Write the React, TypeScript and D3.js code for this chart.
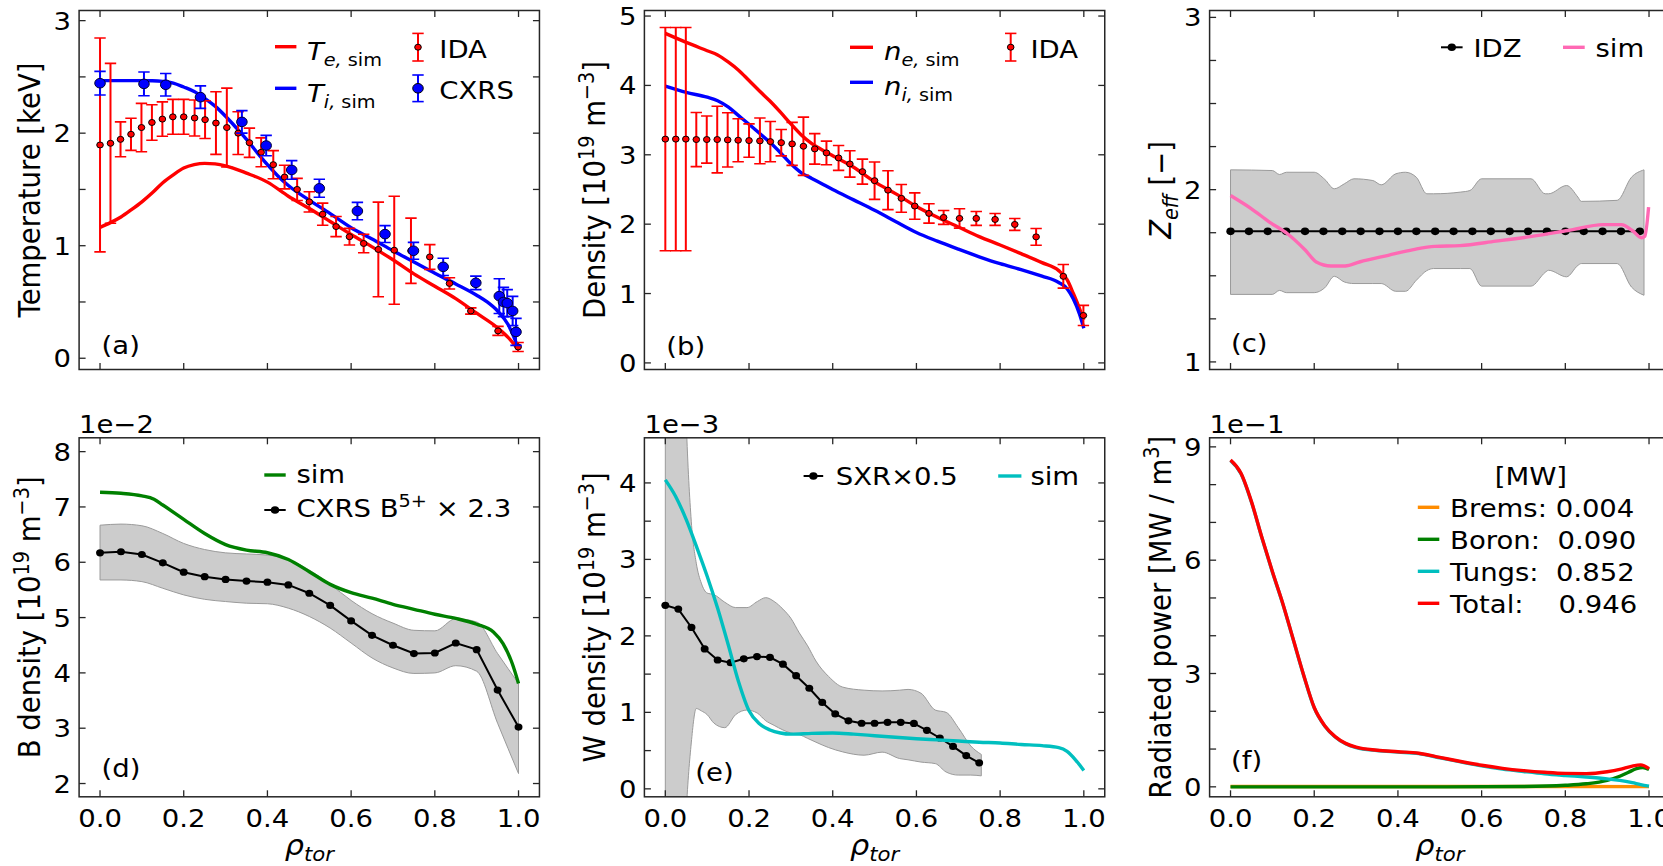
import React from 'react';
import * as d3 from 'd3';

// ---------------- data ----------------
const rhoTicks = [0, 0.2, 0.4, 0.6, 0.8, 1.0];
const rhoTickLabels = ['0.0', '0.2', '0.4', '0.6', '0.8', '1.0'];

// (a) temperatures
const idaRho = [0, 0.025, 0.049, 0.074, 0.099, 0.124, 0.149, 0.174, 0.2, 0.226, 0.251, 0.277, 0.303, 0.33, 0.357, 0.385, 0.414, 0.441, 0.471, 0.5, 0.532, 0.564, 0.596, 0.63, 0.665, 0.703, 0.743, 0.788, 0.835, 0.886, 0.951, 0.999];
const idaTe = [1.895, 1.91, 1.945, 1.99, 2.05, 2.095, 2.125, 2.145, 2.145, 2.135, 2.12, 2.09, 2.05, 2.0, 1.915, 1.83, 1.72, 1.61, 1.50, 1.39, 1.28, 1.17, 1.08, 1.02, 0.967, 0.96, 0.955, 0.90, 0.665, 0.42, 0.243, 0.10];
const idaTeErr = [0.95, 0.71, 0.155, 0.143, 0.215, 0.158, 0.153, 0.155, 0.155, 0.16, 0.168, 0.278, 0.35, 0.19, 0.13, 0.128, 0.125, 0.105, 0.098, 0.09, 0.098, 0.089, 0.074, 0.082, 0.42, 0.48, 0.29, 0.11, 0.05, 0.028, 0.04, 0.04];
const cxrsRho = [0, 0.105, 0.157, 0.24, 0.339, 0.397, 0.458, 0.524, 0.615, 0.681, 0.749, 0.82, 0.898, 0.954, 0.964, 0.973, 0.986, 0.994];
const cxrsTi = [2.444, 2.438, 2.43, 2.32, 2.10, 1.89, 1.673, 1.51, 1.308, 1.103, 0.955, 0.812, 0.67, 0.552, 0.50, 0.49, 0.42, 0.234];
const cxrsTiErr = [0.105, 0.105, 0.1, 0.1, 0.1, 0.09, 0.083, 0.08, 0.077, 0.075, 0.075, 0.077, 0.06, 0.155, 0.13, 0.12, 0.13, 0.12];
const teSimRho = [0, 0.025, 0.05, 0.075, 0.1, 0.125, 0.15, 0.175, 0.2, 0.225, 0.25, 0.275, 0.3, 0.35, 0.4, 0.45, 0.5, 0.55, 0.6, 0.65, 0.7, 0.75, 0.8, 0.85, 0.9, 0.95, 0.975, 1.0];
const teSim = [1.163, 1.205, 1.255, 1.32, 1.39, 1.47, 1.56, 1.63, 1.69, 1.72, 1.732, 1.727, 1.71, 1.645, 1.565, 1.44, 1.33, 1.215, 1.10, 0.99, 0.875, 0.75, 0.64, 0.53, 0.40, 0.27, 0.185, 0.075];
const tiSimRho = [0, 0.05, 0.1, 0.125, 0.15, 0.175, 0.2, 0.225, 0.25, 0.275, 0.3, 0.325, 0.35, 0.375, 0.4, 0.425, 0.45, 0.5, 0.55, 0.6, 0.65, 0.7, 0.75, 0.8, 0.85, 0.9, 0.925, 0.95, 0.975, 1.0];
const tiSim = [2.467, 2.467, 2.467, 2.466, 2.46, 2.445, 2.41, 2.37, 2.31, 2.24, 2.15, 2.05, 1.945, 1.83, 1.72, 1.62, 1.535, 1.405, 1.285, 1.16, 1.06, 0.955, 0.855, 0.755, 0.66, 0.56, 0.5, 0.42, 0.30, 0.085];

// (b) densities
const idaNe = [3.226, 3.226, 3.226, 3.22, 3.22, 3.22, 3.215, 3.21, 3.205, 3.2, 3.19, 3.175, 3.157, 3.123, 3.085, 3.027, 2.955, 2.868, 2.757, 2.627, 2.49, 2.372, 2.261, 2.155, 2.097, 2.083, 2.083, 2.068, 1.996, 1.817, 1.248, 0.684];
const idaNeErr = [1.61, 1.61, 1.61, 0.39, 0.34, 0.48, 0.39, 0.31, 0.24, 0.33, 0.29, 0.19, 0.31, 0.42, 0.22, 0.17, 0.18, 0.19, 0.18, 0.27, 0.28, 0.2, 0.19, 0.14, 0.1, 0.14, 0.1, 0.085, 0.085, 0.12, 0.17, 0.145];
const nSimRho = [0, 0.05, 0.1, 0.125, 0.15, 0.175, 0.2, 0.225, 0.25, 0.275, 0.3, 0.325, 0.35, 0.375, 0.4, 0.45, 0.5, 0.55, 0.6, 0.65, 0.7, 0.75, 0.8, 0.85, 0.9, 0.94, 0.96, 0.975, 0.99, 1.0];
const neSim = [4.75, 4.62, 4.5, 4.44, 4.34, 4.22, 4.07, 3.92, 3.775, 3.615, 3.445, 3.285, 3.16, 3.07, 2.985, 2.82, 2.61, 2.44, 2.255, 2.1, 1.96, 1.82, 1.7, 1.575, 1.445, 1.33, 1.2, 1.0, 0.78, 0.62];
const niSim = [3.99, 3.9, 3.83, 3.78, 3.69, 3.565, 3.44, 3.31, 3.18, 3.03, 2.87, 2.74, 2.66, 2.58, 2.5, 2.35, 2.2, 2.04, 1.88, 1.755, 1.64, 1.53, 1.43, 1.345, 1.25, 1.16, 1.07, 0.92, 0.7, 0.5];

// (c) Zeff
const idzRho = [0, 0.044, 0.089, 0.133, 0.178, 0.222, 0.267, 0.311, 0.356, 0.4, 0.444, 0.489, 0.533, 0.578, 0.622, 0.667, 0.711, 0.756, 0.8, 0.844, 0.889, 0.933, 0.978];
const idzZeff = [1.758, 1.758, 1.758, 1.758, 1.758, 1.758, 1.758, 1.758, 1.758, 1.758, 1.758, 1.758, 1.758, 1.758, 1.758, 1.758, 1.758, 1.758, 1.758, 1.758, 1.758, 1.758, 1.758];
const zBandRho = [0, 0.1, 0.117, 0.134, 0.2, 0.225, 0.248, 0.272, 0.295, 0.34, 0.36, 0.395, 0.418, 0.444, 0.469, 0.485, 0.55, 0.572, 0.6, 0.718, 0.752, 0.76, 0.803, 0.83, 0.838, 0.924, 0.958, 0.988];
const zBandUp = [2.115, 2.111, 2.088, 2.101, 2.101, 2.06, 2.005, 2.034, 2.063, 2.053, 2.028, 2.092, 2.101, 2.072, 1.976, 1.976, 1.986, 1.995, 2.063, 2.063, 1.976, 1.976, 2.024, 1.957, 1.932, 1.938, 2.072, 2.115];
const zBandLo = [1.392, 1.392, 1.415, 1.402, 1.402, 1.43, 1.497, 1.464, 1.455, 1.455, 1.455, 1.41, 1.41, 1.474, 1.53, 1.542, 1.542, 1.542, 1.44, 1.44, 1.52, 1.532, 1.494, 1.56, 1.571, 1.571, 1.435, 1.387];
const zSimRho = [0, 0.05, 0.093, 0.136, 0.179, 0.205, 0.24, 0.274, 0.308, 0.377, 0.437, 0.488, 0.548, 0.634, 0.72, 0.806, 0.891, 0.934, 0.96, 0.982, 0.99, 0.999];
const zSim = [1.966, 1.889, 1.812, 1.744, 1.648, 1.58, 1.557, 1.557, 1.58, 1.619, 1.652, 1.671, 1.675, 1.701, 1.729, 1.763, 1.797, 1.797, 1.763, 1.721, 1.73, 1.899];

// (d) boron density (x1e-2)
const bRho = [0, 0.05, 0.1, 0.15, 0.2, 0.25, 0.3, 0.35, 0.4, 0.45, 0.5, 0.55, 0.6, 0.65, 0.7, 0.75, 0.8, 0.85, 0.9, 0.95, 1.0];
const bCxrs = [6.17, 6.19, 6.14, 5.99, 5.82, 5.74, 5.69, 5.66, 5.64, 5.59, 5.44, 5.22, 4.94, 4.68, 4.50, 4.35, 4.36, 4.54, 4.42, 3.69, 3.02];
const bCxrsUp = [6.67, 6.69, 6.66, 6.52, 6.34, 6.23, 6.17, 6.15, 6.13, 6.05, 5.86, 5.6, 5.31, 5.07, 4.9, 4.77, 4.76, 4.98, 4.92, 4.35, 3.81];
const bCxrsLo = [5.68, 5.68, 5.65, 5.53, 5.41, 5.33, 5.29, 5.26, 5.25, 5.17, 5.02, 4.81, 4.54, 4.27, 4.09, 3.99, 4.0, 4.13, 4.03, 3.09, 2.18];
const bSimRho = [0, 0.05, 0.1, 0.129, 0.15, 0.2, 0.25, 0.3, 0.35, 0.4, 0.45, 0.5, 0.55, 0.6, 0.65, 0.7, 0.75, 0.8, 0.85, 0.9, 0.94, 0.963, 0.985, 1.0];
const bSim = [7.265, 7.247, 7.2, 7.14, 7.035, 6.776, 6.52, 6.32, 6.22, 6.172, 6.05, 5.83, 5.6, 5.45, 5.35, 5.24, 5.15, 5.06, 4.985, 4.88, 4.74, 4.53, 4.17, 3.81];

// (e) tungsten density (x1e-3)
const sxrRho = [0, 0.031, 0.0625, 0.094, 0.125, 0.156, 0.1875, 0.219, 0.25, 0.281, 0.3125, 0.344, 0.375, 0.406, 0.4375, 0.469, 0.5, 0.531, 0.5625, 0.594, 0.625, 0.656, 0.6875, 0.719, 0.75];
const sxrW = [2.40, 2.35, 2.11, 1.83, 1.685, 1.65, 1.70, 1.73, 1.72, 1.63, 1.48, 1.315, 1.13, 0.98, 0.89, 0.858, 0.858, 0.87, 0.87, 0.855, 0.765, 0.665, 0.555, 0.435, 0.34];
const wBandRho = [0, 0.035, 0.05, 0.062, 0.074, 0.086, 0.1, 0.116, 0.142, 0.168, 0.195, 0.22, 0.24, 0.26, 0.281, 0.3, 0.32, 0.34, 0.36, 0.39, 0.424, 0.475, 0.518, 0.56, 0.58, 0.611, 0.645, 0.671, 0.7, 0.73, 0.755];
const wBandUp = [9, 8, 4.8, 3.5, 2.95, 2.69, 2.56, 2.54, 2.44, 2.37, 2.37, 2.45, 2.50, 2.45, 2.35, 2.23, 2.04, 1.87, 1.67, 1.47, 1.33, 1.29, 1.28, 1.29, 1.30, 1.25, 1.03, 1.0, 0.8, 0.56, 0.45];
const wBandLo = [-4, -2.5, -0.3, 0.6, 1.05, 1.02, 0.97, 0.86, 0.80, 0.97, 1.03, 0.99, 0.89, 0.83, 0.77, 0.73, 0.71, 0.66, 0.61, 0.54, 0.483, 0.44, 0.48, 0.396, 0.38, 0.35, 0.33, 0.22, 0.18, 0.18, 0.17];
const wSimRho = [0, 0.025, 0.05, 0.075, 0.1, 0.125, 0.15, 0.175, 0.2, 0.225, 0.25, 0.275, 0.3, 0.35, 0.4, 0.45, 0.5, 0.55, 0.6, 0.65, 0.7, 0.75, 0.8, 0.85, 0.9, 0.94, 0.96, 0.98, 1.0];
const wSim = [4.04, 3.82, 3.52, 3.16, 2.78, 2.36, 1.89, 1.4, 1.02, 0.85, 0.77, 0.73, 0.715, 0.725, 0.73, 0.715, 0.695, 0.675, 0.655, 0.64, 0.625, 0.61, 0.6, 0.58, 0.565, 0.54, 0.49, 0.38, 0.24];

// (f) radiated power (x1e-1)
const pradRho = [0, 0.025, 0.05, 0.075, 0.1, 0.125, 0.15, 0.175, 0.2, 0.225, 0.25, 0.275, 0.3, 0.35, 0.4, 0.45, 0.5, 0.55, 0.6, 0.65, 0.7, 0.75, 0.8, 0.85, 0.9, 0.93, 0.96, 0.98, 1.0];
const pradTotal = [8.65, 8.3, 7.55, 6.6, 5.7, 4.85, 3.9, 2.95, 2.1, 1.62, 1.33, 1.15, 1.05, 0.97, 0.93, 0.89, 0.78, 0.67, 0.57, 0.49, 0.43, 0.385, 0.355, 0.35, 0.4, 0.46, 0.55, 0.58, 0.48];
const pradTungs = [8.64, 8.29, 7.54, 6.59, 5.69, 4.84, 3.89, 2.94, 2.09, 1.61, 1.32, 1.14, 1.04, 0.96, 0.92, 0.88, 0.77, 0.66, 0.555, 0.47, 0.405, 0.345, 0.3, 0.26, 0.21, 0.17, 0.11, 0.06, 0.02];
const boronRho = [0, 0.5, 0.7, 0.8, 0.85, 0.9, 0.93, 0.95, 0.97, 0.985, 1.0];
const pradBoron = [0.0, 0.0, 0.01, 0.04, 0.08, 0.17, 0.28, 0.38, 0.48, 0.51, 0.46];
const bremsRho = [0, 0.5, 1.0];
const pradBrems = [0.01, 0.008, 0.006];
const radLegendLabels = ['Brems: 0.004', 'Boron:  0.090', 'Tungs:  0.852', 'Total:    0.946'];

// ---------------- style / layout ----------------
const FONT = "'DejaVu Sans', sans-serif";
const SX = 1.1; // horizontal stretch of the reference image
const FS_TICK = 25;
const FS_LABEL = 27.5;
const FS_LEG = 25;
const COLS = [79.1, 644.4, 1209.6];
const ROWS = [10.5, 437.8];
const AW = 460.35;
const AH = 359;
const XDOM: [number, number] = [-0.05, 1.05];
const AXC = '#262626';
const LW = 3.4;
const RED = '#ff0000', BLUE = '#0000ff', GREEN = '#008000', CYAN = '#00bfbf', PINK = '#ff69b4', ORANGE = '#ff8c00';
const BANDFILL = '#cccccc', BANDEDGE = '#9a9a9a';

type Seg = { t: string; it?: boolean; sup?: boolean; sub?: boolean };

function rich(segs: Seg[], fs: number) {
  let level = 0;
  const off = (l: number) => (l === 1 ? -0.38 * fs : l === -1 ? 0.24 * fs : 0);
  return segs.map((s, i) => {
    const tgt = s.sup ? 1 : s.sub ? -1 : 0;
    const dy = off(tgt) - off(level);
    level = tgt;
    return (
      <tspan key={i} dy={dy !== 0 ? dy : undefined} fontStyle={s.it ? 'italic' : 'normal'} fontSize={tgt !== 0 ? fs * 0.7 : fs}>
        {s.t}
      </tspan>
    );
  });
}

function Txt({ x, y, fs, anchor = 'start', rot = false, children }: any) {
  return (
    <text
      transform={`translate(${x},${y}) scale(${SX},1)${rot ? ' rotate(-90)' : ''}`}
      fontSize={fs}
      textAnchor={anchor}
      fontFamily={FONT}
      fill="#000"
      style={{ whiteSpace: 'pre' }}
    >
      {children}
    </text>
  );
}

type Sc = d3.ScaleLinear<number, number>;

function linePath(x: Sc, y: Sc, xs: number[], vs: number[], curve: any = d3.curveMonotoneX) {
  return d3.line<[number, number]>().x(d => x(d[0])).y(d => y(d[1])).curve(curve)(d3.zip(xs, vs) as [number, number][]) || '';
}

function bandPath(x: Sc, y: Sc, xs: number[], lo: number[], up: number[], curve: any = d3.curveMonotoneX) {
  const pts = xs.map((v, i) => ({ x: v, lo: lo[i], up: up[i] }));
  return d3.area<{ x: number; lo: number; up: number }>().x(d => x(d.x)).y0(d => y(d.lo)).y1(d => y(d.up)).curve(curve)(pts) || '';
}

function Mk({ cx, cy, r, fill, stroke = 'none', sw = 0 }: any) {
  return <ellipse cx={cx} cy={cy} rx={r * SX} ry={r} fill={fill} stroke={stroke} strokeWidth={sw} />;
}

function ErrorBars({ x, y, xs, vs, es, color, r, mfill, mstroke, cap = 5.7 }: any) {
  return (
    <g>
      {xs.map((xv: number, i: number) => {
        const cx = x(xv), t = y(vs[i] + es[i]), b = y(vs[i] - es[i]);
        return (
          <g key={'b' + i}>
            <line x1={cx} x2={cx} y1={t} y2={b} stroke={color} strokeWidth={2} />
            <line x1={cx - cap} x2={cx + cap} y1={t} y2={t} stroke={color} strokeWidth={1.6} />
            <line x1={cx - cap} x2={cx + cap} y1={b} y2={b} stroke={color} strokeWidth={1.6} />
          </g>
        );
      })}
      {xs.map((xv: number, i: number) => (
        <Mk key={'m' + i} cx={x(xv)} cy={y(vs[i])} r={r} fill={mfill} stroke={mstroke} sw={1} />
      ))}
    </g>
  );
}

function DotLine({ x, y, xs, vs, r = 3.6 }: any) {
  return (
    <g>
      <path d={linePath(x, y, xs, vs, d3.curveLinear)} fill="none" stroke="#000" strokeWidth={2} />
      {xs.map((xv: number, i: number) => (
        <Mk key={i} cx={x(xv)} cy={y(vs[i])} r={r} fill="#000" />
      ))}
    </g>
  );
}

function Panel({ id, col, row, ylim, yMajor, yMinor, ylabel, panelLabel, pl, offset, xLabels, draw, legend }: any) {
  const x0 = COLS[col], y0 = ROWS[row];
  const x = d3.scaleLinear().domain(XDOM).range([x0, x0 + AW]);
  const y = d3.scaleLinear().domain(ylim).range([y0 + AH, y0]);
  const TL = 6.5;
  const yb = y0 + AH;
  const xr = x0 + AW;
  return (
    <g>
      <defs>
        <clipPath id={id}>
          <rect x={x0} y={y0} width={AW} height={AH} />
        </clipPath>
      </defs>
      <g clipPath={`url(#${id})`}>{draw(x, y)}</g>
      <g stroke={AXC} strokeWidth={1.3}>
        {rhoTicks.map(t => (
          <g key={'xt' + t}>
            <line x1={x(t)} x2={x(t)} y1={yb} y2={yb - TL} />
            <line x1={x(t)} x2={x(t)} y1={y0} y2={y0 + TL} />
          </g>
        ))}
        {[...yMajor, ...yMinor].map((t: number) => (
          <g key={'yt' + t}>
            <line x1={x0} x2={x0 + TL} y1={y(t)} y2={y(t)} />
            <line x1={xr} x2={xr - TL} y1={y(t)} y2={y(t)} />
          </g>
        ))}
      </g>
      <rect x={x0} y={y0} width={AW} height={AH} fill="none" stroke={AXC} strokeWidth={1.5} />
      {yMajor.map((t: number) => (
        <Txt key={'yl' + t} x={x0 - 8} y={y(t) + 9} fs={FS_TICK} anchor="end">
          {String(t)}
        </Txt>
      ))}
      {xLabels &&
        rhoTicks.map((t, i) => (
          <Txt key={'xl' + t} x={x(t)} y={yb + 30} fs={FS_TICK} anchor="middle">
            {rhoTickLabels[i]}
          </Txt>
        ))}
      {xLabels && (
        <Txt x={x0 + AW / 2} y={yb + 58} fs={FS_LABEL} anchor="middle">
          {rich([{ t: 'ρ', it: true }, { t: 'tor', it: true, sub: true }], FS_LABEL)}
        </Txt>
      )}
      <Txt x={x0 - 39} y={y0 + AH / 2} fs={FS_LABEL} anchor="middle" rot>
        {rich(ylabel, FS_LABEL)}
      </Txt>
      <Txt x={x0 + pl[0]} y={yb - pl[1]} fs={FS_TICK}>
        {panelLabel}
      </Txt>
      {offset && (
        <Txt x={x0} y={y0 - 4.8} fs={FS_TICK}>
          {offset}
        </Txt>
      )}
      {legend}
    </g>
  );
}

const dens = (p: string): Seg[] => [{ t: p + ' [10' }, { t: '19', sup: true }, { t: ' m' }, { t: '−3', sup: true }, { t: ']' }];
const simSub = (v: string, s: string): Seg[] => [{ t: v, it: true }, { t: s + ',', it: true, sub: true }, { t: ' sim', sub: true }];

function LegLine({ x1, x2, y, color }: any) {
  return <line x1={x1} x2={x2} y1={y} y2={y} stroke={color} strokeWidth={LW} />;
}

function LegErr({ x, y, half, color, r, mfill }: any) {
  return (
    <g>
      <line x1={x} x2={x} y1={y - half} y2={y + half} stroke={color} strokeWidth={2} />
      <line x1={x - 5.7} x2={x + 5.7} y1={y - half} y2={y - half} stroke={color} strokeWidth={1.6} />
      <line x1={x - 5.7} x2={x + 5.7} y1={y + half} y2={y + half} stroke={color} strokeWidth={1.6} />
      <Mk cx={x} cy={y} r={r} fill={mfill} stroke="#000" sw={1} />
    </g>
  );
}

function LegDot({ x1, x2, y }: any) {
  return (
    <g>
      <line x1={x1} x2={x2} y1={y} y2={y} stroke="#000" strokeWidth={2} />
      <Mk cx={(x1 + x2) / 2} cy={y} r={3.8} fill="#000" />
    </g>
  );
}

export default function App() {
  return (
    <div style={{ position: 'absolute', left: 0, top: 0, width: 1663, height: 866, background: '#fff' }}>
      <svg width={1663} height={866} style={{ display: 'block' }}>
        <rect x={0} y={0} width={1663} height={866} fill="#fff" />

        {/* (a) */}
        <Panel
          id="ca" col={0} row={0} ylim={[-0.1, 3.09]} yMajor={[0, 1, 2, 3]} yMinor={[0.5, 1.5, 2.5]}
          ylabel={[{ t: 'Temperature [keV]' }]} panelLabel="(a)" pl={[22.5, 16]} xLabels={false}
          draw={(x: Sc, y: Sc) => (
            <g>
              <path d={linePath(x, y, teSimRho, teSim)} fill="none" stroke={RED} strokeWidth={LW} />
              <path d={linePath(x, y, tiSimRho, tiSim)} fill="none" stroke={BLUE} strokeWidth={LW} />
              <ErrorBars x={x} y={y} xs={idaRho} vs={idaTe} es={idaTeErr} color={RED} r={3} mfill={RED} mstroke="#000" />
              <ErrorBars x={x} y={y} xs={cxrsRho} vs={cxrsTi} es={cxrsTiErr} color={BLUE} r={4.8} mfill={BLUE} mstroke="#000033" />
            </g>
          )}
          legend={
            <g>
              <LegLine x1={275} x2={296.4} y={46.7} color={RED} />
              <Txt x={307} y={60} fs={FS_LEG}>{rich(simSub('T', 'e'), FS_LEG)}</Txt>
              <LegLine x1={275} x2={296.4} y={88.3} color={BLUE} />
              <Txt x={307} y={101.5} fs={FS_LEG}>{rich(simSub('T', 'i'), FS_LEG)}</Txt>
              <LegErr x={418} y={47.2} half={13.8} color={RED} r={3} mfill={RED} />
              <Txt x={439.3} y={57.5} fs={FS_LEG}>IDA</Txt>
              <LegErr x={418} y={88.3} half={13.3} color={BLUE} r={4.8} mfill={BLUE} />
              <Txt x={439.3} y={98.5} fs={FS_LEG}>CXRS</Txt>
            </g>
          }
        />

        {/* (b) */}
        <Panel
          id="cb" col={1} row={0} ylim={[-0.095, 5.08]} yMajor={[0, 1, 2, 3, 4, 5]} yMinor={[]}
          ylabel={dens('Density')} panelLabel="(b)" pl={[21.9, 14.5]} xLabels={false}
          draw={(x: Sc, y: Sc) => (
            <g>
              <path d={linePath(x, y, nSimRho, neSim)} fill="none" stroke={RED} strokeWidth={LW} />
              <path d={linePath(x, y, nSimRho, niSim)} fill="none" stroke={BLUE} strokeWidth={LW} />
              <ErrorBars x={x} y={y} xs={idaRho} vs={idaNe} es={idaNeErr} color={RED} r={3} mfill={RED} mstroke="#000" />
            </g>
          )}
          legend={
            <g>
              <LegLine x1={850} x2={873} y={47.3} color={RED} />
              <Txt x={884} y={60} fs={FS_LEG}>{rich(simSub('n', 'e'), FS_LEG)}</Txt>
              <LegLine x1={850} x2={873} y={82.3} color={BLUE} />
              <Txt x={884} y={95} fs={FS_LEG}>{rich(simSub('n', 'i'), FS_LEG)}</Txt>
              <LegErr x={1010.7} y={47.2} half={13.8} color={RED} r={3} mfill={RED} />
              <Txt x={1030.4} y={57.5} fs={FS_LEG}>IDA</Txt>
            </g>
          }
        />

        {/* (c) */}
        <Panel
          id="cc" col={2} row={0} ylim={[0.956, 3.04]} yMajor={[1, 2, 3]} yMinor={[1.25, 1.5, 1.75, 2.25, 2.5, 2.75]}
          ylabel={[{ t: 'Z', it: true }, { t: 'eff', it: true, sub: true }, { t: ' [−]' }]} panelLabel="(c)" pl={[21.4, 17.2]} xLabels={false}
          draw={(x: Sc, y: Sc) => (
            <g>
              <path d={bandPath(x, y, zBandRho, zBandLo, zBandUp)} fill={BANDFILL} stroke={BANDEDGE} strokeWidth={1} />
              <DotLine x={x} y={y} xs={idzRho} vs={idzZeff} r={3.8} />
              <path d={linePath(x, y, zSimRho, zSim)} fill="none" stroke={PINK} strokeWidth={LW} />
            </g>
          )}
          legend={
            <g>
              <LegDot x1={1441} x2={1462.6} y={47.3} />
              <Txt x={1473.4} y={57.3} fs={FS_LEG}>IDZ</Txt>
              <LegLine x1={1563} x2={1584.7} y={47.3} color={PINK} />
              <Txt x={1595.5} y={57.3} fs={FS_LEG}>sim</Txt>
            </g>
          }
        />

        {/* (d) */}
        <Panel
          id="cd" col={0} row={1} ylim={[1.76, 8.25]} yMajor={[2, 3, 4, 5, 6, 7, 8]} yMinor={[]}
          ylabel={dens('B density')} panelLabel="(d)" pl={[22.5, 19.5]} offset="1e−2" xLabels
          draw={(x: Sc, y: Sc) => (
            <g>
              <path d={bandPath(x, y, bRho, bCxrsLo, bCxrsUp)} fill={BANDFILL} stroke={BANDEDGE} strokeWidth={1} />
              <path d={linePath(x, y, bSimRho, bSim)} fill="none" stroke={GREEN} strokeWidth={LW} />
              <DotLine x={x} y={y} xs={bRho} vs={bCxrs} r={3.6} />
            </g>
          )}
          legend={
            <g>
              <LegLine x1={264.3} x2={285.7} y={475} color={GREEN} />
              <Txt x={296.4} y={483.3} fs={FS_LEG}>sim</Txt>
              <LegDot x1={264.3} x2={285.7} y={510} />
              <Txt x={296.4} y={516.7} fs={FS_LEG}>
                {rich([{ t: 'CXRS B' }, { t: '5+', sup: true }, { t: ' × 2.3' }], FS_LEG)}
              </Txt>
            </g>
          }
        />

        {/* (e) */}
        <Panel
          id="ce" col={1} row={1} ylim={[-0.104, 4.59]} yMajor={[0, 1, 2, 3, 4]} yMinor={[0.5, 1.5, 2.5, 3.5]}
          ylabel={dens('W density')} panelLabel="(e)" pl={[50.9, 16]} offset="1e−3" xLabels
          draw={(x: Sc, y: Sc) => (
            <g>
              <path d={bandPath(x, y, wBandRho, wBandLo, wBandUp)} fill={BANDFILL} stroke={BANDEDGE} strokeWidth={1} />
              <DotLine x={x} y={y} xs={sxrRho} vs={sxrW} r={3.6} />
              <path d={linePath(x, y, wSimRho, wSim)} fill="none" stroke={CYAN} strokeWidth={LW} />
            </g>
          )}
          legend={
            <g>
              <LegDot x1={803.6} x2={823.2} y={476} />
              <Txt x={835.7} y={485} fs={FS_LEG}>SXR×0.5</Txt>
              <LegLine x1={998.2} x2={1021.4} y={476} color={CYAN} />
              <Txt x={1030.4} y={485} fs={FS_LEG}>sim</Txt>
            </g>
          }
        />

        {/* (f) */}
        <Panel
          id="cf" col={2} row={1} ylim={[-0.264, 9.24]} yMajor={[0, 3, 6, 9]} yMinor={[1, 2, 4, 5, 7, 8]}
          ylabel={[{ t: 'Radiated power [MW / m' }, { t: '3', sup: true }, { t: ']' }]} panelLabel="(f)" pl={[21.4, 27.8]} offset="1e−1" xLabels
          draw={(x: Sc, y: Sc) => (
            <g>
              <path d={linePath(x, y, bremsRho, pradBrems)} fill="none" stroke={ORANGE} strokeWidth={LW} />
              <path d={linePath(x, y, boronRho, pradBoron)} fill="none" stroke={GREEN} strokeWidth={LW} />
              <path d={linePath(x, y, pradRho, pradTungs)} fill="none" stroke={CYAN} strokeWidth={LW} />
              <path d={linePath(x, y, pradRho, pradTotal)} fill="none" stroke={RED} strokeWidth={LW} />
            </g>
          )}
          legend={
            <g>
              <Txt x={1530.9} y={485} fs={FS_LEG} anchor="middle">[MW]</Txt>
              {[ORANGE, GREEN, CYAN, RED].map((c, i) => (
                <g key={c}>
                  <LegLine x1={1417.8} x2={1439.3} y={507.3 + i * 32} color={c} />
                  <Txt x={1450.1} y={517.3 + i * 32} fs={FS_LEG}>{radLegendLabels[i]}</Txt>
                </g>
              ))}
            </g>
          }
        />
      </svg>
    </div>
  );
}
